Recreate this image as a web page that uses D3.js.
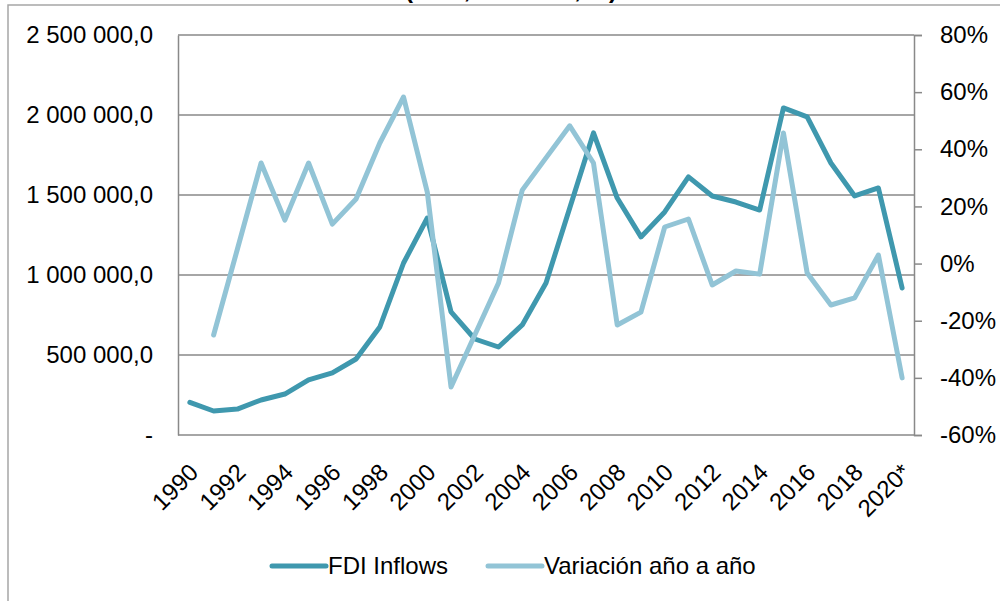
<!DOCTYPE html>
<meta charset="utf-8">
<style>
  body { margin: 0; background: #fff; }
  text { font-family: "Liberation Sans", Arial, sans-serif; fill: #000; }
  .grid line { stroke: #898989; stroke-width: 1.5px; }
</style>

<body>
  <script src="https://cdn.jsdelivr.net/npm/d3@7/dist/d3.min.js"></script>
  <script>

    var years = d3.range(1990, 2021).map(function (d) { return d === 2020 ? "2020*" : String(d); });

    // FDI inflows (left axis)
    var fdi = [204000, 150000, 162000, 219000, 256000, 344000, 388000, 475000, 675000, 1075000,
      1356000, 769000, 600000, 550000, 688000, 950000, 1419000, 1888000, 1481000, 1238000,
      1394000, 1613000, 1494000, 1456000, 1406000, 2044000, 1988000, 1700000, 1494000, 1544000,
      919000];

    // year-on-year change, % (right axis); 1990 has no value
    var variacion = [null, -25, 5, 35.2, 15.2, 35.2, 13.8, 22.6, 42.2, 58.3,
      25, -43.2, -25, -6.8, 25.7, 37, 48.2, 35.2, -21.5, -17,
      12.8, 15.6, -7.5, -2.6, -3.7, 45.7, -3.3, -14.5, -12, 3,
      -40];

    var leftTicks = [0, 500000, 1000000, 1500000, 2000000, 2500000];
    var rightTicks = [-60, -40, -20, 0, 20, 40, 60, 80];
    var legendNames = ["FDI Inflows", "Variación año a año"];
    var colors = ["#3f98ae", "#92c4d6"];

    var margin = { top: 35, right: 86, bottom: 166, left: 178 },
      width = 1000 - margin.left - margin.right,
      height = 601 - margin.top - margin.bottom;

    var svg = d3.select("body").append("svg")
      .attr("width", 1000)
      .attr("height", 601);

    // outer frame
    svg.append("rect")
      .attr("x", 8).attr("y", 5)
      .attr("width", 1010).attr("height", 620)
      .attr("fill", "none")
      .attr("stroke", "#a6a6a6")
      .attr("stroke-width", 1.5);

    // title, mostly above the picture as in the original
    svg.append("text")
      .attr("x", 511).attr("y", -2)
      .attr("text-anchor", "middle")
      .style("font-size", "24px")
      .style("font-weight", "bold")
      .text("(USD, millones, %)");

    var g = svg.append("g")
      .attr("transform", "translate(" + margin.left + "," + margin.top + ")");

    var x = d3.scaleBand().domain(years).range([0, width]);
    var yL = d3.scaleLinear().domain([0, 2500000]).range([height, 0]);
    var yR = d3.scaleLinear().domain([-60, 80]).range([height, 0]);

    var fmt = function (d) {
      if (d === 0) return "-";
      return d3.format(",.1f")(d).replace(/,/g, " ").replace(".", ",");
    };

    // gridlines
    g.append("g").attr("class", "grid")
      .selectAll("line").data(leftTicks).enter().append("line")
      .attr("x1", 0).attr("x2", width)
      .attr("y1", function (d) { return yL(d); })
      .attr("y2", function (d) { return yL(d); });

    // left axis
    var axL = g.append("g").call(d3.axisLeft(yL).tickValues(leftTicks).tickSize(0).tickPadding(25).tickFormat(fmt));
    axL.select(".domain").attr("stroke", "#898989").attr("stroke-width", 1.5);
    axL.selectAll("text").style("font-size", "24px").attr("font-family", null);

    // right axis
    var axR = g.append("g").attr("transform", "translate(" + width + ",0)")
      .call(d3.axisRight(yR).tickValues(rightTicks).tickSize(8).tickPadding(18)
        .tickFormat(function (d) { return d + "%"; }));
    axR.select(".domain").attr("stroke", "#898989").attr("stroke-width", 1.5);
    axR.selectAll(".tick line").attr("stroke", "#898989").attr("stroke-width", 1.5);
    axR.selectAll("text").style("font-size", "24px").attr("font-family", null);

    // x labels
    var xl = g.append("g").attr("transform", "translate(0," + height + ")");
    xl.selectAll("text")
      .data(years.filter(function (d, i) { return i % 2 === 0; }))
      .enter().append("text")
      .attr("transform", function (d) {
        return "translate(" + (x(d) + x.bandwidth() / 2 - 2) + ",27) rotate(-45)";
      })
      .attr("text-anchor", "end")
      .attr("dy", "0.7em")
      .style("font-size", "24px")
      .text(function (d) { return d; });

    var cx = function (d, i) { return x(years[i]) + x.bandwidth() / 2; };

    g.append("path")
      .datum(fdi)
      .attr("fill", "none")
      .attr("stroke", colors[0])
      .attr("stroke-width", 5)
      .attr("stroke-linejoin", "round")
      .attr("stroke-linecap", "round")
      .attr("d", d3.line().x(cx).y(function (d) { return yL(d); }));

    g.append("path")
      .datum(variacion)
      .attr("fill", "none")
      .attr("stroke", colors[1])
      .attr("stroke-width", 5)
      .attr("stroke-linejoin", "round")
      .attr("stroke-linecap", "round")
      .attr("d", d3.line().defined(function (d) { return d !== null; }).x(cx).y(function (d) { return yR(d); }));

    // legend
    var legX = [272, 488];
    var leg = svg.append("g").selectAll("g").data(legendNames).enter().append("g")
      .attr("transform", function (d, i) { return "translate(" + legX[i] + ",566)"; });
    leg.append("line")
      .attr("x1", 0).attr("x2", 54)
      .attr("stroke", function (d, i) { return colors[i]; })
      .attr("stroke-width", 5)
      .attr("stroke-linecap", "round");
    leg.append("text")
      .attr("x", 56).attr("dy", "0.35em")
      .style("font-size", "24px")
      .text(function (d) { return d; });

  </script>
</body>

</html>
